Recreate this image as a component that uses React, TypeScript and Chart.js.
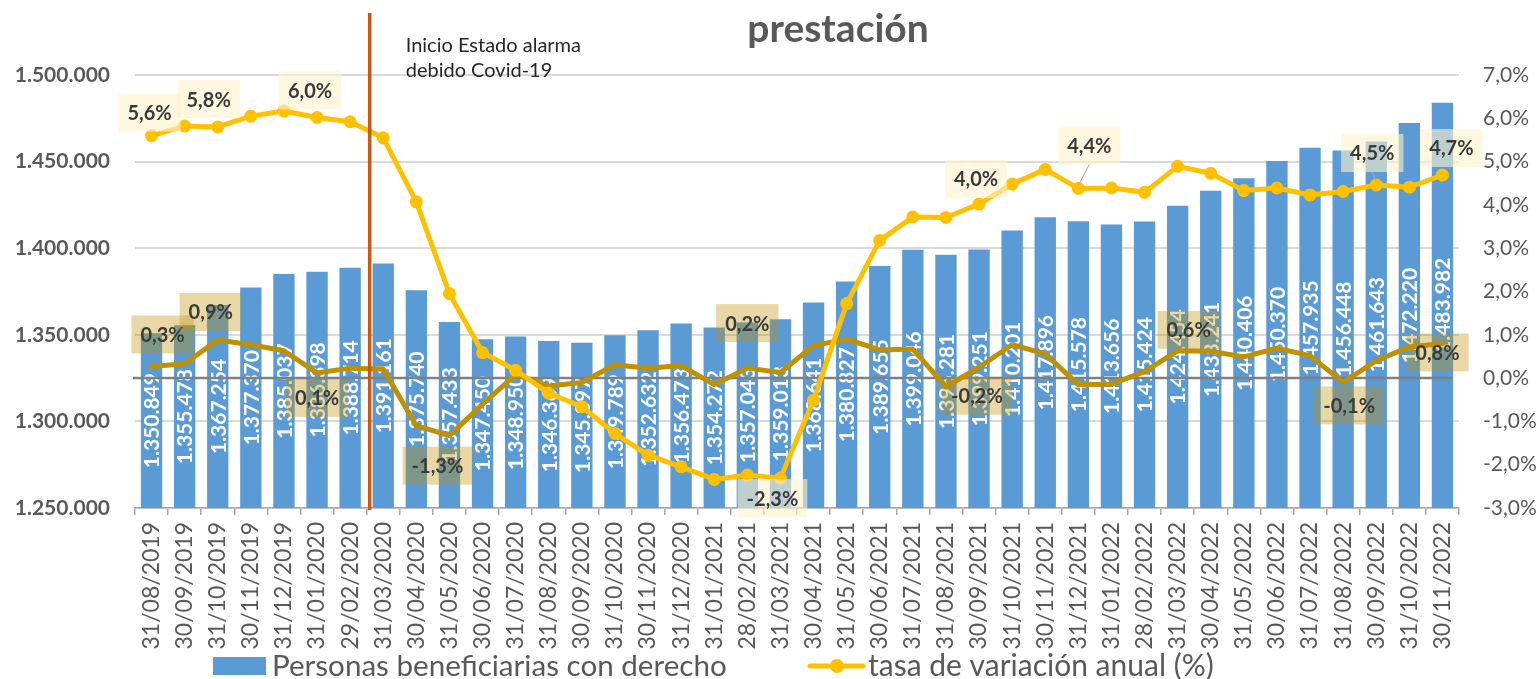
import React, { useEffect, useRef } from 'react';
import { Chart, registerables } from 'chart.js';

Chart.register(...registerables);

const categories = [
  '31/08/2019', '30/09/2019', '31/10/2019', '30/11/2019', '31/12/2019', '31/01/2020', '29/02/2020',
  '31/03/2020', '30/04/2020', '31/05/2020', '30/06/2020', '31/07/2020', '31/08/2020', '30/09/2020',
  '31/10/2020', '30/11/2020', '31/12/2020', '31/01/2021', '28/02/2021', '31/03/2021', '30/04/2021',
  '31/05/2021', '30/06/2021', '31/07/2021', '31/08/2021', '30/09/2021', '31/10/2021', '30/11/2021',
  '31/12/2021', '31/01/2022', '28/02/2022', '31/03/2022', '30/04/2022', '31/05/2022', '30/06/2022',
  '31/07/2022', '31/08/2022', '30/09/2022', '31/10/2022', '30/11/2022',
];

const beneficiaries = [
  1350849, 1355478, 1367254, 1377370, 1385037, 1386398, 1388714, 1391161, 1375740, 1357433,
  1347450, 1348950, 1346369, 1345397, 1349789, 1352632, 1356473, 1354272, 1357043, 1359013,
  1368641, 1380827, 1389655, 1399046, 1396281, 1399251, 1410201, 1417896, 1415578, 1413656,
  1415424, 1424454, 1433241, 1440406, 1450370, 1457935, 1456448, 1461643, 1472220, 1483982,
];

const annualRate = [
  5.6, 5.82, 5.8, 6.05, 6.17, 6.02, 5.92, 5.55, 4.07, 1.95,
  0.59, 0.18, -0.35, -0.66, -1.28, -1.78, -2.05, -2.34, -2.24, -2.31,
  -0.51, 1.72, 3.18, 3.72, 3.71, 4.02, 4.48, 4.82, 4.38, 4.39,
  4.29, 4.89, 4.73, 4.33, 4.39, 4.23, 4.31, 4.46, 4.41, 4.69,
];

const monthlyRate = [
  0.27, 0.33, 0.88, 0.77, 0.63, 0.12, 0.23, 0.21, -1.1, -1.33,
  -0.6, 0.08, -0.18, -0.1, 0.31, 0.23, 0.29, -0.15, 0.23, 0.13,
  0.75, 0.9, 0.65, 0.67, -0.2, 0.25, 0.77, 0.56, -0.15, -0.14,
  0.15, 0.63, 0.62, 0.49, 0.69, 0.52, -0.1, 0.4, 0.72, 0.8,
];

const leftMin = 1250000;
const leftMax = 1500000;
const leftStep = 50000;
const rightMin = -3;
const rightMax = 7;
const rightStep = 1;

const titleText = 'prestación';
const annotationLines = ['Inicio Estado alarma', 'debido Covid-19'];
const barSeriesName = 'Personas beneficiarias con derecho';
const annualSeriesName = 'tasa de variación anual (%)';
const monthlySeriesName = 'tasa de variación mensual (%)';

// label placement (offset from the point, px) for the shown data labels
const annualLabelSpots = [
  { i: 0, dx: -2, dy: -23 },
  { i: 1, dx: 24, dy: -27 },
  { i: 5, dx: -7, dy: -27 },
  { i: 19, dx: -8, dy: 20 },
  { i: 25, dx: -3, dy: -25 },
  { i: 28, dx: 11, dy: -43, leader: true },
  { i: 37, dx: -4, dy: -32, leader: true },
  { i: 39, dx: 9, dy: -27 },
];
const monthlyLabelSpots = [
  { i: 0, dx: 11, dy: -32 },
  { i: 2, dx: -7, dy: -28 },
  { i: 5, dx: 0, dy: 25 },
  { i: 9, dx: -12, dy: 30 },
  { i: 18, dx: 0, dy: -45 },
  { i: 24, dx: 31, dy: 9 },
  { i: 31, dx: 11, dy: -21 },
  { i: 36, dx: 6, dy: 23 },
  { i: 39, dx: -5, dy: 9 },
];

const BLUE = '#5B9BD5';
const YELLOW = '#FFC000';
const GOLD = '#BF9000';
const GRAY_TEXT = '#595959';

const fmtThousands = (n: number) =>
  Math.round(n).toString().replace(/\B(?=(\d{3})+(?!\d))/g, '.');
const fmtPct = (v: number) => v.toFixed(1).replace('.', ',') + '%';

export default function App() {
  const ref = useRef<HTMLCanvasElement | null>(null);

  useEffect(() => {
    const canvas = ref.current;
    if (!canvas) return;

    const drawPctLabels = (chart: any, values: number[], spots: any[], bg: string) => {
      const ctx = chart.ctx;
      const xs = chart.scales.x;
      const ys = chart.scales.y1;
      ctx.save();
      ctx.font = 'bold 20px Lato';
      ctx.textAlign = 'center';
      ctx.textBaseline = 'middle';
      spots.forEach((s) => {
        const px = xs.getPixelForValue(s.i);
        const py = ys.getPixelForValue(values[s.i]);
        const cx = px + s.dx;
        const cy = py + s.dy;
        const text = fmtPct(values[s.i]);
        const w = ctx.measureText(text).width + 18;
        const h = 38;
        if (s.leader) {
          ctx.strokeStyle = '#a6a6a6';
          ctx.lineWidth = 1;
          ctx.beginPath();
          ctx.moveTo(cx, cy + h / 2);
          ctx.lineTo(px, py - 3);
          ctx.stroke();
        }
        ctx.fillStyle = bg;
        ctx.fillRect(cx - w / 2, cy - h / 2, w, h);
        ctx.fillStyle = '#3a3a3a';
        ctx.fillText(text, cx, cy + 1);
      });
      ctx.restore();
    };

    const custom = {
      id: 'customDraw',
      afterDatasetDraw(chart: any, args: any) {
        if (args.index !== 0) return;
        const ctx = chart.ctx;
        const xs = chart.scales.x;
        const ys = chart.scales.y;
        const base = ys.getPixelForValue(leftMin);
        ctx.save();
        ctx.fillStyle = '#ffffff';
        ctx.font = 'bold 21px Lato';
        ctx.textAlign = 'center';
        ctx.textBaseline = 'middle';
        beneficiaries.forEach((v, i) => {
          const top = ys.getPixelForValue(v);
          const cx = xs.getPixelForValue(i);
          const cy = (top + base) / 2;
          ctx.save();
          ctx.translate(cx + 1, cy);
          ctx.rotate(-Math.PI / 2);
          ctx.fillText(fmtThousands(v), 0, 0);
          ctx.restore();
        });
        const y1 = chart.scales.y1;
        const yz = y1.getPixelForValue(0);
        ctx.strokeStyle = '#808080';
        ctx.lineWidth = 2.5;
        ctx.beginPath();
        ctx.moveTo(chart.chartArea.left - 2, yz);
        ctx.lineTo(chart.chartArea.right - 6, yz);
        ctx.stroke();
        ctx.restore();
      },
      afterDatasetsDraw(chart: any) {
        const ctx = chart.ctx;
        const xs = chart.scales.x;
        const area = chart.chartArea;
        const vx = (xs.getPixelForValue(6) + xs.getPixelForValue(7)) / 2 + 3;
        ctx.save();
        ctx.strokeStyle = '#C55A11';
        ctx.lineWidth = 3.5;
        ctx.beginPath();
        ctx.moveTo(vx, area.top - 62);
        ctx.lineTo(vx, area.bottom + 2);
        ctx.stroke();

        ctx.fillStyle = '#262626';
        ctx.font = '20px Lato';
        ctx.textAlign = 'left';
        ctx.textBaseline = 'alphabetic';
        annotationLines.forEach((line, k) => {
          ctx.fillText(line, vx + 36, area.top - 23 + k * 25);
        });
        ctx.restore();

        drawPctLabels(chart, annualRate, annualLabelSpots, 'rgba(255,242,204,0.6)');
        drawPctLabels(chart, monthlyRate, monthlyLabelSpots, 'rgba(191,144,0,0.35)');
      },
      afterDraw(chart: any) {
        const ctx = chart.ctx;
        const area = chart.chartArea;
        ctx.save();
        ctx.fillStyle = GRAY_TEXT;
        ctx.font = 'bold 39px Lato';
        ctx.textAlign = 'center';
        ctx.textBaseline = 'alphabetic';
        ctx.fillText(titleText, (area.left + area.right) / 2 + 41, 42);

        const ly = 666;
        ctx.fillStyle = BLUE;
        ctx.fillRect(213, ly - 9, 53, 18);
        ctx.fillStyle = GRAY_TEXT;
        ctx.font = '29.6px Lato';
        ctx.textAlign = 'left';
        ctx.textBaseline = 'middle';
        ctx.fillText(barSeriesName, 272, ly);
        ctx.strokeStyle = YELLOW;
        ctx.lineWidth = 5;
        ctx.lineCap = 'round';
        ctx.beginPath();
        ctx.moveTo(810, ly);
        ctx.lineTo(863, ly);
        ctx.stroke();
        ctx.fillStyle = YELLOW;
        ctx.beginPath();
        ctx.arc(837, ly, 7, 0, Math.PI * 2);
        ctx.fill();
        ctx.fillStyle = GRAY_TEXT;
        ctx.font = '30px Lato';
        ctx.fillText(annualSeriesName, 868, ly);
        ctx.restore();
      },
    };

    const chart = new Chart(canvas, {
      type: 'bar',
      data: {
        labels: categories,
        datasets: [
          {
            type: 'bar',
            label: barSeriesName,
            data: beneficiaries,
            backgroundColor: BLUE,
            barPercentage: 0.645,
            categoryPercentage: 1,
            yAxisID: 'y',
            order: 3,
          },
          {
            type: 'line',
            label: annualSeriesName,
            data: annualRate,
            borderColor: YELLOW,
            backgroundColor: YELLOW,
            borderWidth: 5,
            pointRadius: 6.5,
            pointBorderWidth: 0,
            pointBackgroundColor: YELLOW,
            borderJoinStyle: 'round',
            borderCapStyle: 'round',
            tension: 0,
            yAxisID: 'y1',
            order: 1,
          },
          {
            type: 'line',
            label: monthlySeriesName,
            data: monthlyRate,
            borderColor: GOLD,
            backgroundColor: GOLD,
            borderWidth: 5,
            pointRadius: 0,
            borderJoinStyle: 'round',
            borderCapStyle: 'round',
            tension: 0,
            yAxisID: 'y1',
            order: 2,
          },
        ],
      } as any,
      options: {
        animation: false,
        responsive: true,
        maintainAspectRatio: false,
        layout: { padding: { top: 75, left: 0, right: 0, bottom: 0 } },
        plugins: {
          legend: { display: false },
          title: { display: false },
          tooltip: { enabled: false },
        },
        scales: {
          x: {
            offset: true,
            afterFit: (s: any) => { s.height = 171; },
            grid: {
              offset: true,
              drawOnChartArea: false,
              drawTicks: true,
              tickLength: 7,
              color: '#a6a6a6',
              lineWidth: 1.5,
            },
            border: { display: true, color: '#a6a6a6', width: 1.5 },
            ticks: {
              autoSkip: false,
              minRotation: 90,
              maxRotation: 90,
              padding: 7,
              color: GRAY_TEXT,
              font: { family: 'Lato', size: 23 },
            },
          },
          y: {
            position: 'left',
            min: leftMin,
            max: leftMax,
            afterFit: (s: any) => { s.width = 135; },
            grid: { color: '#d9d9d9', lineWidth: 2, drawTicks: false },
            border: { display: false },
            ticks: {
              stepSize: leftStep,
              padding: 25,
              color: GRAY_TEXT,
              font: { family: 'Lato', size: 21, weight: 'bold' },
              callback: (v: any) => fmtThousands(Number(v)),
            },
          },
          y1: {
            position: 'right',
            min: rightMin,
            max: rightMax,
            afterFit: (s: any) => { s.width = 79; },
            grid: { display: false, drawTicks: false },
            border: { display: false },
            ticks: {
              stepSize: rightStep,
              padding: 24,
              color: GRAY_TEXT,
              font: { family: 'Lato', size: 21 },
              callback: (v: any) => fmtPct(Number(v)),
            },
          },
        },
      } as any,
      plugins: [custom],
    });

    return () => chart.destroy();
  }, []);

  return (
    <div style={{ position: 'absolute', left: 0, top: 0, width: 1538, height: 679 }}>
      <canvas ref={ref} />
    </div>
  );
}
